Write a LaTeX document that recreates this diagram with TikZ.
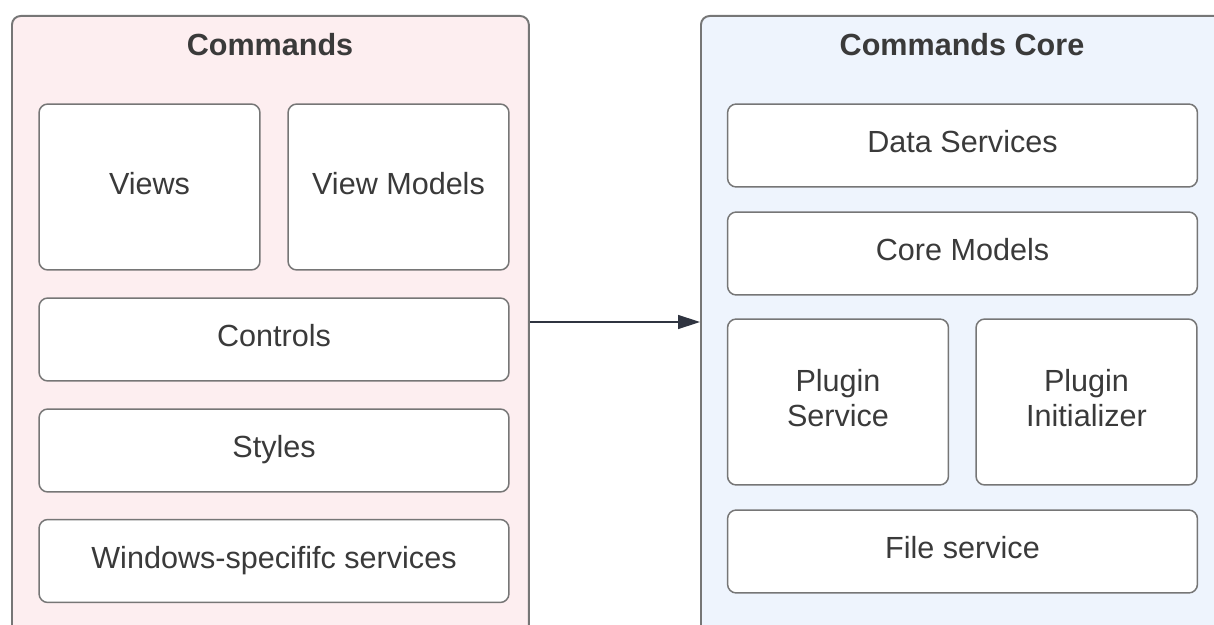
\documentclass[tikz,border=0pt]{standalone}
\usepackage{fontspec}
\setmainfont{Liberation Sans}
\usetikzlibrary{arrows.meta, positioning}
\definecolor{cpink}{HTML}{FDEEF0}
\definecolor{cblue}{HTML}{EEF4FD}
\definecolor{cline}{HTML}{767676}
\definecolor{ctext}{HTML}{3A3A3A}
\definecolor{cdark}{HTML}{2F3440}
\tikzset{
  every picture/.style={font=\fontsize{17.4}{20}\selectfont, text=ctext},
  container/.style={draw=cline, fill=#1, rounded corners=5pt, line width=1.1pt, inner sep=0pt},
  box/.style={draw=cline, fill=white, rounded corners=5pt, line width=0.85pt, align=center, inner sep=0pt, text depth=0.45em, minimum width=9.4cm, minimum height=1.66cm},
  halfbox/.style={box, minimum width=4.42cm, minimum height=3.32cm},
  title/.style={font=\fontsize{17.4}{20}\selectfont\bfseries},
  arrow/.style={-{Triangle[length=4.4mm, width=2.8mm]}, draw=cdark, line width=0.8pt},
}
\begin{document}
\begin{tikzpicture}[x=0.02cm, y=-0.02cm]
  \useasboundingbox (0,0) rectangle (1214,625);
  \clip (0,0) rectangle (1214,625);
  % left container
  \node[container=cpink, minimum width=10.34cm, minimum height=12.5cm, anchor=north west] (cmd) at (11,15) {};
  \node[title] (cmdt) at (270,45) {Commands};
  \node[halfbox] (views) at (149.5,187) {Views};
  \node[halfbox] (vm) at (398.5,187) {View Models};
  \node[box] (ctl) at (274,339.5) {Controls};
  \node[box] (sty) at (274,450.5) {Styles};
  \node[box] (win) at (274,561) {Windows-specififc services};
  % right container
  \node[container=cblue, minimum width=10.6cm, minimum height=12.5cm, anchor=north west] (core) at (700,15) {};
  \node[title] (coret) at (962,45) {Commands Core};
  \node[box] (data) at (962.5,145.5) {Data Services};
  \node[box] (models) at (962.5,253.5) {Core Models};
  \node[halfbox] (psvc) at (838,402) {Plugin\\Service};
  \node[halfbox] (pinit) at (1086.5,402) {Plugin\\Initializer};
  \node[box] (file) at (962.5,551.5) {File service};
  \draw[arrow] (cmd.east |- 0,322) -- (core.west |- 0,322);
\end{tikzpicture}
\end{document}
